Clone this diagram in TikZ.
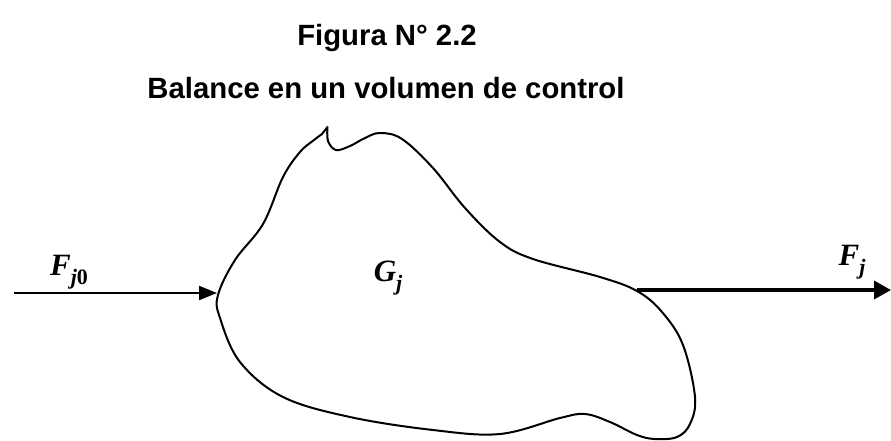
\documentclass[tikz,border=0pt]{standalone}
\usepackage{fontspec}
\setmainfont{Liberation Sans}
\newfontfamily\mathserif{Liberation Serif}
\usetikzlibrary{arrows.meta}
\tikzset{
  titletext/.style={font=\fontsize{29.3}{33}\selectfont\bfseries, anchor=center, inner sep=0pt},
  symtext/.style={font=\fontsize{31}{34}\selectfont\mathserif\bfseries\itshape, anchor=center, inner sep=0pt},
  flowin/.style={line width=2pt, -{Triangle[length=18pt,width=14pt]}},
  flowout/.style={line width=3.4pt, -{Triangle[length=17pt,width=18pt]}},
  outline/.style={line width=2pt, line join=round, line cap=round}
}
\newcommand{\subtxt}[1]{\raisebox{-0.28em}{\fontsize{22}{24}\selectfont #1}}
\begin{document}
\begin{tikzpicture}[x=1pt,y=-1pt]
\useasboundingbox (0,0) rectangle (891,440);
% titles
\node[titletext] (t1) at (387,38) {Figura N° 2.2};
\node[titletext] (t2) at (386,88) {Balance en un volumen de control};
% control volume
\draw[outline] plot[smooth, tension=0.6] coordinates {
 (327.5,127) (328,141) (336,150) (350,146) (365,138) (380,133) (402,139)
 (433,168) (465,208) (500,242) (533,259) (600,277) (637,291) (662,312)
 (683,345) (695,397) (690,424) (677,437) (655,439) (637,435) (610,422)
 (585,414) (560,418) (500,434) (433,430) (350,417) (283,397) (240,362)
 (220,318) (218,295) (235,260) (263,224) (283,177) (300,152) (314,140) (322,134)
} -- (327.5,127);
\coordinate (in) at (217,293);
\coordinate (src) at (14,293);
\coordinate (out) at (637,290);
\coordinate (sink) at (891,290);
\draw[flowin] (src) -- (in);
\draw[flowout] (out) -- (sink);
% labels
\node[symtext] (fj0) at (69,272) {F\subtxt{j{\upshape 0}}};
\node[symtext] (gj) at (388,278) {G\subtxt{j}};
\node[symtext] (fj) at (852,262) {F\subtxt{j}};
\end{tikzpicture}
\end{document}
